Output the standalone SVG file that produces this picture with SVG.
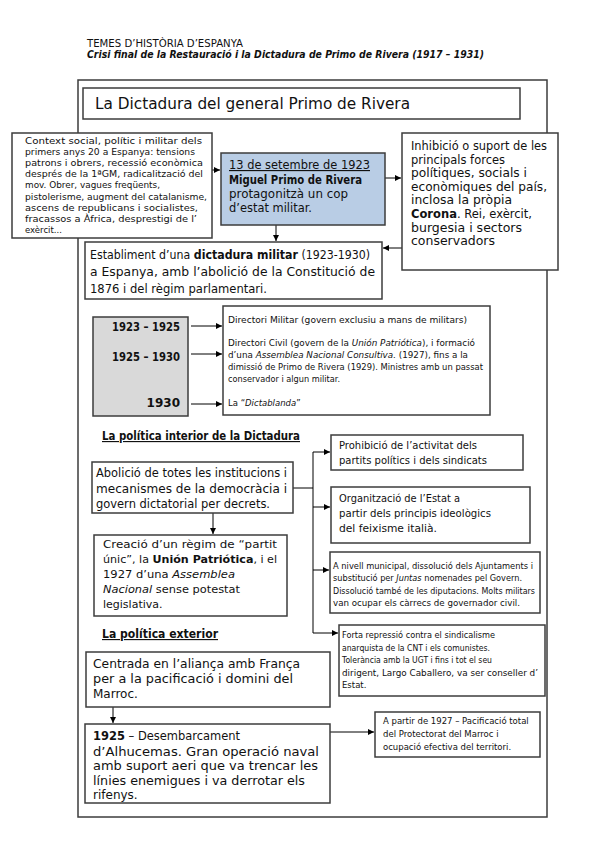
<svg xmlns="http://www.w3.org/2000/svg" width="599" height="848" viewBox="0 0 599 848">
<defs>
<marker id="arr" markerUnits="userSpaceOnUse" markerWidth="7" markerHeight="6" refX="6" refY="3" orient="auto">
<path d="M0,0 L6,3 L0,6 z" fill="#000"/>
</marker>
<style>
text{font-family:"DejaVu Sans","Liberation Sans",sans-serif;fill:#111}
.box{fill:#fff;stroke:#3c3c3c;stroke-width:1.5}
.frame{fill:none;stroke:#3c3c3c;stroke-width:1.5}
.s{font-size:8.5px}
.m{font-size:11.5px}
.b{font-weight:bold}
.i{font-style:italic}
.u{text-decoration:underline}
.conn line,.conn path{stroke:#000;stroke-width:1;fill:none}
</style>
</defs>
<rect width="599" height="848" fill="#fff"/>

<g id="header">
<text x="87" y="47" font-size="10" textLength="156" lengthAdjust="spacingAndGlyphs">TEMES D’HISTÒRIA D’ESPANYA</text>
<text x="87" y="58" font-size="10.5" class="b i" textLength="397" lengthAdjust="spacingAndGlyphs">Crisi final de la Restauració i la Dictadura de Primo de Rivera (1917 – 1931)</text>
</g>

<rect class="frame" x="78" y="80" width="469" height="737"/>

<g class="conn">
<line x1="212" y1="170" x2="220" y2="170" marker-end="url(#arr)"/>
<line x1="385" y1="178" x2="401" y2="178" marker-end="url(#arr)"/>
<line x1="276" y1="225" x2="276" y2="241" marker-end="url(#arr)"/>
<line x1="402" y1="248" x2="383" y2="248" marker-end="url(#arr)"/>
<line x1="191" y1="326" x2="222" y2="326" marker-end="url(#arr)"/>
<line x1="191" y1="354" x2="222" y2="354" marker-end="url(#arr)"/>
<line x1="191" y1="404" x2="222" y2="404" marker-end="url(#arr)"/>
<path d="M293,488 H313 M313,452 V633"/>
<line x1="313" y1="452" x2="330" y2="452" marker-end="url(#arr)"/>
<line x1="313" y1="507" x2="330" y2="507" marker-end="url(#arr)"/>
<line x1="313" y1="570" x2="329" y2="570" marker-end="url(#arr)"/>
<line x1="313" y1="633" x2="338" y2="633" marker-end="url(#arr)"/>
<line x1="213" y1="513" x2="213" y2="534" marker-end="url(#arr)"/>
<line x1="113" y1="707" x2="113" y2="723" marker-end="url(#arr)"/>
<line x1="330" y1="732" x2="374" y2="732" marker-end="url(#arr)"/>
</g>

<g id="title">
<rect class="box" x="83" y="88" width="437" height="31"/>
<text x="95" y="109" font-size="16" textLength="315" lengthAdjust="spacingAndGlyphs">La Dictadura del general Primo de Rivera</text>
</g>

<g id="context" class="s">
<rect class="box" x="12" y="133" width="200" height="105"/>
<text x="25" y="144" textLength="177" lengthAdjust="spacingAndGlyphs">Context social, polític i militar dels</text>
<text x="25" y="155.1" textLength="170" lengthAdjust="spacingAndGlyphs">primers anys 20 a Espanya: tensions</text>
<text x="25" y="166.2" textLength="178" lengthAdjust="spacingAndGlyphs">patrons i obrers, recessió econòmica</text>
<text x="25" y="177.3" textLength="178" lengthAdjust="spacingAndGlyphs">després de la 1ªGM, radicalització del</text>
<text x="25" y="188.4" textLength="135" lengthAdjust="spacingAndGlyphs">mov. Obrer, vagues freqüents,</text>
<text x="25" y="199.5" textLength="182" lengthAdjust="spacingAndGlyphs">pistolerisme, augment del catalanisme,</text>
<text x="25" y="210.6" textLength="173" lengthAdjust="spacingAndGlyphs">ascens de republicans i socialistes,</text>
<text x="25" y="221.7" textLength="172" lengthAdjust="spacingAndGlyphs">fracassos a Àfrica, desprestigi de l’</text>
<text x="25" y="232.8">exèrcit...</text>
</g>

<g id="cop" class="m">
<rect x="221" y="153" width="164" height="72" fill="#b9cde5" stroke="#3c3c3c" stroke-width="1.5"/>
<text x="229" y="169" class="u" textLength="141" lengthAdjust="spacingAndGlyphs">13 de setembre de 1923</text>
<text x="229" y="184" class="b" textLength="133" lengthAdjust="spacingAndGlyphs">Miguel Primo de Rivera</text>
<text x="229" y="198" textLength="119" lengthAdjust="spacingAndGlyphs">protagonitzà un cop</text>
<text x="229" y="212" textLength="83" lengthAdjust="spacingAndGlyphs">d’estat militar.</text>
</g>

<g id="suport" class="m">
<rect class="box" x="402" y="133" width="156" height="137"/>
<text x="411" y="150" textLength="136" lengthAdjust="spacingAndGlyphs">Inhibició o suport de les</text>
<text x="411" y="163.6" textLength="94" lengthAdjust="spacingAndGlyphs">principals forces</text>
<text x="411" y="177.2" textLength="116" lengthAdjust="spacingAndGlyphs">polítiques, socials i</text>
<text x="411" y="190.8" textLength="136" lengthAdjust="spacingAndGlyphs">econòmiques del país,</text>
<text x="411" y="204.4" textLength="101" lengthAdjust="spacingAndGlyphs">inclosa la pròpia</text>
<text x="411" y="218" textLength="121" lengthAdjust="spacingAndGlyphs"><tspan class="b">Corona</tspan>. Rei, exèrcit,</text>
<text x="411" y="231.6" textLength="111" lengthAdjust="spacingAndGlyphs">burgesia i sectors</text>
<text x="411" y="245.2" textLength="84" lengthAdjust="spacingAndGlyphs">conservadors</text>
</g>

<g id="establiment" class="m">
<rect class="box" x="85" y="242" width="297" height="57"/>
<text x="90" y="259" textLength="280" lengthAdjust="spacingAndGlyphs">Establiment d’una <tspan class="b">dictadura militar</tspan> (1923-1930)</text>
<text x="90" y="276" textLength="285" lengthAdjust="spacingAndGlyphs">a Espanya, amb l’abolició de la Constitució de</text>
<text x="90" y="293" textLength="177" lengthAdjust="spacingAndGlyphs">1876 i del règim parlamentari.</text>
</g>

<g id="anys">
<rect x="93" y="317" width="95" height="99" fill="#d9d9d9" stroke="#3c3c3c" stroke-width="1.5"/>
<text x="180" y="331" font-size="12" class="b" text-anchor="end" textLength="68" lengthAdjust="spacingAndGlyphs">1923 – 1925</text>
<text x="180" y="361" font-size="12" class="b" text-anchor="end" textLength="68" lengthAdjust="spacingAndGlyphs">1925 – 1930</text>
<text x="180" y="407" font-size="12" class="b" text-anchor="end">1930</text>
</g>

<g id="etapes" class="s">
<rect class="box" x="223" y="306" width="267" height="109"/>
<text x="228" y="323" textLength="239" lengthAdjust="spacingAndGlyphs">Directori Militar (govern exclusiu a mans de militars)</text>
<text x="228" y="346" textLength="247" lengthAdjust="spacingAndGlyphs">Directori Civil (govern de la <tspan class="i">Unión Patriótica</tspan>), i formació</text>
<text x="228" y="358" textLength="240" lengthAdjust="spacingAndGlyphs">d’una <tspan class="i">Assemblea Nacional Consultiva.</tspan> (1927), fins a la</text>
<text x="228" y="370" textLength="255" lengthAdjust="spacingAndGlyphs">dimissió de Primo de Rivera (1929). Ministres amb un passat</text>
<text x="228" y="382" textLength="112" lengthAdjust="spacingAndGlyphs">conservador i algun militar.</text>
<text x="228" y="406">La “<tspan class="i">Dictablanda</tspan>”</text>
</g>

<g id="h-interior">
<text x="102" y="440" font-size="11.5" class="b u" textLength="198" lengthAdjust="spacingAndGlyphs">La política interior de la Dictadura</text>
</g>

<g id="abolicio" font-size="12">
<rect class="box" x="92" y="462" width="201" height="51"/>
<text x="96" y="477" textLength="191" lengthAdjust="spacingAndGlyphs">Abolició de totes les institucions i</text>
<text x="96" y="493" textLength="191" lengthAdjust="spacingAndGlyphs">mecanismes de la democràcia i</text>
<text x="96" y="508" textLength="174" lengthAdjust="spacingAndGlyphs">govern dictatorial per decrets.</text>
</g>

<g id="prohibicio" font-size="11">
<rect class="box" x="331" y="435" width="192" height="35"/>
<text x="339" y="449" textLength="138" lengthAdjust="spacingAndGlyphs">Prohibició de l’activitat dels</text>
<text x="339" y="464" textLength="148" lengthAdjust="spacingAndGlyphs">partits polítics i dels sindicats</text>
</g>

<g id="organitzacio" font-size="11">
<rect class="box" x="331" y="487" width="199" height="56"/>
<text x="339" y="502" textLength="121" lengthAdjust="spacingAndGlyphs">Organització de l’Estat a</text>
<text x="339" y="517" textLength="152" lengthAdjust="spacingAndGlyphs">partir dels principis ideològics</text>
<text x="339" y="532" textLength="98" lengthAdjust="spacingAndGlyphs">del feixisme italià.</text>
</g>

<g id="municipal" class="s">
<rect class="box" x="330" y="552" width="210" height="61"/>
<text x="333" y="569" textLength="200" lengthAdjust="spacingAndGlyphs">A nivell municipal, dissolució dels Ajuntaments i</text>
<text x="333" y="581.3" textLength="189" lengthAdjust="spacingAndGlyphs">substitució per <tspan class="i">Juntas</tspan>  nomenades pel Govern.</text>
<text x="333" y="593.6" textLength="202" lengthAdjust="spacingAndGlyphs">Dissolució també de les diputacions. Molts militars</text>
<text x="333" y="606" textLength="187" lengthAdjust="spacingAndGlyphs">van ocupar els càrrecs de governador civil.</text>
</g>

<g id="repressio" class="s">
<rect class="box" x="339" y="625" width="206" height="71"/>
<text x="342" y="638" textLength="153" lengthAdjust="spacingAndGlyphs">Forta repressió contra el sindicalisme</text>
<text x="342" y="650.5" textLength="148" lengthAdjust="spacingAndGlyphs">anarquista de la CNT i els comunistes.</text>
<text x="342" y="663" textLength="150" lengthAdjust="spacingAndGlyphs">Tolerància amb la UGT i fins i tot el seu</text>
<text x="342" y="675.5" textLength="196" lengthAdjust="spacingAndGlyphs">dirigent, Largo Caballero, va ser conseller d’</text>
<text x="342" y="688">Estat.</text>
</g>

<g id="creacio" font-size="11">
<rect class="box" x="94" y="535" width="193" height="81"/>
<text x="103" y="548" textLength="174" lengthAdjust="spacingAndGlyphs">Creació d’un règim de “partit</text>
<text x="103" y="563" textLength="174" lengthAdjust="spacingAndGlyphs">únic”, la <tspan class="b">Unión Patriótica</tspan>, i el</text>
<text x="103" y="578" textLength="132" lengthAdjust="spacingAndGlyphs">1927 d’una <tspan class="i">Assemblea</tspan></text>
<text x="103" y="593" textLength="137" lengthAdjust="spacingAndGlyphs"><tspan class="i">Nacional</tspan> sense potestat</text>
<text x="103" y="608">legislativa.</text>
</g>

<g id="h-exterior">
<text x="102" y="638" font-size="11.5" class="b u" textLength="116" lengthAdjust="spacingAndGlyphs">La política exterior</text>
</g>

<g id="centrada" font-size="12">
<rect class="box" x="86" y="652" width="244" height="55"/>
<text x="93" y="668" textLength="207" lengthAdjust="spacingAndGlyphs">Centrada en l’aliança amb França</text>
<text x="93" y="683" textLength="200" lengthAdjust="spacingAndGlyphs">per a la pacificació i domini del</text>
<text x="93" y="698">Marroc.</text>
</g>

<g id="alhucemas" font-size="12">
<rect class="box" x="85" y="724" width="245" height="79"/>
<text x="93" y="740" textLength="147" lengthAdjust="spacingAndGlyphs"><tspan class="b">1925</tspan> – Desembarcament</text>
<text x="93" y="755.5" textLength="226" lengthAdjust="spacingAndGlyphs">d’Alhucemas. Gran operació naval</text>
<text x="93" y="770" textLength="225" lengthAdjust="spacingAndGlyphs">amb suport aeri que va trencar les</text>
<text x="93" y="785" textLength="212" lengthAdjust="spacingAndGlyphs">línies enemigues i va derrotar els</text>
<text x="93" y="799">rifenys.</text>
</g>

<g id="pacificacio" class="s">
<rect class="box" x="375" y="712" width="165" height="45"/>
<text x="383" y="724">A partir de 1927 – Pacificació total</text>
<text x="383" y="737">del Protectorat del Marroc i</text>
<text x="383" y="750">ocupació efectiva del territori.</text>
</g>
</svg>
